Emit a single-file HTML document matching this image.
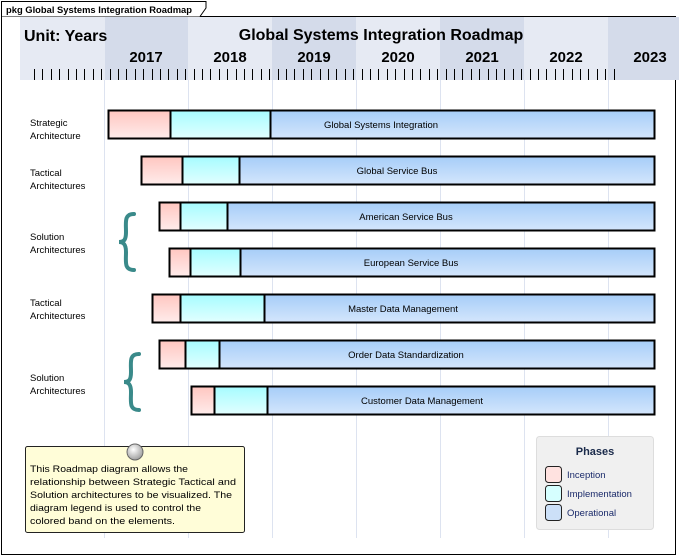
<!DOCTYPE html>
<html><head><meta charset="utf-8"><style>
html,body{margin:0;padding:0;background:#fff;width:679px;height:558px;overflow:hidden}
text{font-family:"Liberation Sans",sans-serif}
</style></head><body>
<svg width="679" height="558" viewBox="0 0 679 558" xmlns="http://www.w3.org/2000/svg">
<defs>
<linearGradient id="gp" x1="0" y1="0" x2="0" y2="1"><stop offset="0" stop-color="#ffc6c0"/><stop offset="1" stop-color="#ffeceb"/></linearGradient>
<linearGradient id="gc" x1="0" y1="0" x2="0" y2="1"><stop offset="0" stop-color="#a6fcff"/><stop offset="1" stop-color="#e2ffff"/></linearGradient>
<linearGradient id="gb" x1="0" y1="0" x2="0" y2="1"><stop offset="0" stop-color="#a6cdf8"/><stop offset="1" stop-color="#d4e6fc"/></linearGradient>
<radialGradient id="pin" cx="0.4" cy="0.35" r="0.7"><stop offset="0" stop-color="#fff"/><stop offset="1" stop-color="#999"/></radialGradient>
</defs>
<!-- frame -->
<rect x="1.5" y="16.5" width="674" height="538" fill="none" stroke="#000"/>
<path d="M1.5 16.5 V1.5 H206 V8 L200 16.5" fill="#fff" stroke="#000"/>
<text x="6" y="13" font-size="9.5" font-weight="bold" textLength="186" lengthAdjust="spacingAndGlyphs">pkg Global Systems Integration Roadmap</text>
<!-- header band -->
<rect x="20" y="17" width="659" height="63" fill="#e6eaf3"/>
<rect x="105" y="17" width="83" height="63" fill="#d4dbea"/>
<rect x="272" y="17" width="84" height="63" fill="#d4dbea"/>
<rect x="440" y="17" width="84" height="63" fill="#d4dbea"/>
<rect x="608" y="17" width="71" height="63" fill="#d4dbea"/>
<text x="24" y="41" font-size="16" font-weight="bold">Unit: Years</text>
<text x="381" y="40" font-size="16" font-weight="bold" text-anchor="middle">Global Systems Integration Roadmap</text>
<g font-size="15" font-weight="bold" text-anchor="middle">
<text x="146" y="62">2017</text><text x="230" y="62">2018</text><text x="314" y="62">2019</text><text x="398" y="62">2020</text><text x="482" y="62">2021</text><text x="566" y="62">2022</text><text x="650" y="62">2023</text>
</g>
<g stroke="#000" stroke-width="1" id="ticks"></g>
<!-- gridlines -->
<g stroke="#dde3f0" stroke-width="1">
<line x1="104.5" y1="80" x2="104.5" y2="538"/><line x1="188.5" y1="80" x2="188.5" y2="538"/><line x1="272.5" y1="80" x2="272.5" y2="538"/><line x1="356.5" y1="80" x2="356.5" y2="538"/><line x1="440.5" y1="80" x2="440.5" y2="538"/><line x1="524.5" y1="80" x2="524.5" y2="538"/><line x1="608.5" y1="80" x2="608.5" y2="538"/>
</g>
<!-- labels -->
<g font-size="9.5" fill="#000">
<text x="30" y="126">Strategic</text><text x="30" y="139">Architecture</text>
<text x="30" y="176">Tactical</text><text x="30" y="189">Architectures</text>
<text x="30" y="240">Solution</text><text x="30" y="253">Architectures</text>
<text x="30" y="306">Tactical</text><text x="30" y="319">Architectures</text>
<text x="30" y="381">Solution</text><text x="30" y="394">Architectures</text>
</g>
<!-- braces -->
<g fill="none" stroke="#3a8a8a" stroke-width="4" stroke-linecap="round">
<path d="M134 214 C124 214 126 222 126 232 C126 240 124 242 119 242 C124 242 126 245 126 252 C126 262 124 270 134 270"/>
<path d="M139 354 C129 354 131 362 131 372 C131 380 129 382 124 382 C129 382 131 385 131 392 C131 402 129 410 139 410"/>
</g>
<!-- bars -->
<g stroke="#000" stroke-width="2" id="bars"></g>
<g font-size="9.5" text-anchor="middle">
<text x="381" y="128">Global Systems Integration</text>
<text x="397" y="174">Global Service Bus</text>
<text x="406" y="220">American Service Bus</text>
<text x="411" y="266">European Service Bus</text>
<text x="403" y="312">Master Data Management</text>
<text x="406" y="358">Order Data Standardization</text>
<text x="422" y="404">Customer Data Management</text>
</g>
<!-- note -->
<rect x="25.5" y="446.5" width="219" height="86" rx="2" fill="#fffdd8" stroke="#222"/>
<circle cx="135" cy="452" r="8" fill="url(#pin)" stroke="#666"/>
<g font-size="9.5">
<text x="30" y="472" textLength="158" lengthAdjust="spacingAndGlyphs">This Roadmap diagram allows the</text>
<text x="30" y="485" textLength="206" lengthAdjust="spacingAndGlyphs">relationship between Strategic Tactical and</text>
<text x="30" y="498" textLength="202" lengthAdjust="spacingAndGlyphs">Solution architectures to be visualized. The</text>
<text x="30" y="511" textLength="171" lengthAdjust="spacingAndGlyphs">diagram legend is used to control the</text>
<text x="30" y="524" textLength="145" lengthAdjust="spacingAndGlyphs">colored band on the elements.</text>
</g>
<!-- legend -->
<rect x="536.5" y="436.5" width="117" height="93" rx="3" fill="#f0f0f0" stroke="#ddd"/>
<text x="595" y="455" font-size="11" font-weight="bold" fill="#1a2a4a" text-anchor="middle">Phases</text>
<rect x="545.5" y="466.5" width="16" height="16" rx="3" fill="#ffe2e0" stroke="#222"/>
<rect x="545.5" y="485.5" width="16" height="16" rx="3" fill="#d6ffff" stroke="#222"/>
<rect x="545.5" y="504.5" width="16" height="16" rx="3" fill="#cce0f8" stroke="#222"/>
<g font-size="9.5" fill="#1a2a6a"><text x="567" y="478">Inception</text><text x="567" y="497">Implementation</text><text x="567" y="516">Operational</text></g>
</svg>
<script>
var t=document.getElementById('ticks'),s='';
for(var i=0;i<70;i++){var x=Math.round(34+i*8.4)+0.5;var m=Math.abs((x-0.5-105)%84);var y1=(m<2||m>82)?66:69;s+='<line x1="'+x+'" y1="'+y1+'" x2="'+x+'" y2="80"/>';}
t.innerHTML=s;
var rows=[[110,108,170,270],[156,141,182,239],[202,159,180,227],[248,169,190,240],[294,152,180,264],[340,159,185,219],[386,191,214,267]];
var b='';rows.forEach(function(r){var y=r[0]+0.5,h=28;
b+='<rect x="'+r[1]+'.5" y="'+y+'" width="'+(r[2]-r[1])+'" height="'+h+'" fill="url(#gp)"/>';
b+='<rect x="'+r[2]+'.5" y="'+y+'" width="'+(r[3]-r[2])+'" height="'+h+'" fill="url(#gc)"/>';
b+='<rect x="'+r[3]+'.5" y="'+y+'" width="'+(654-r[3])+'" height="'+h+'" fill="url(#gb)"/>';});
document.getElementById('bars').innerHTML=b;
</script>
</body></html>
